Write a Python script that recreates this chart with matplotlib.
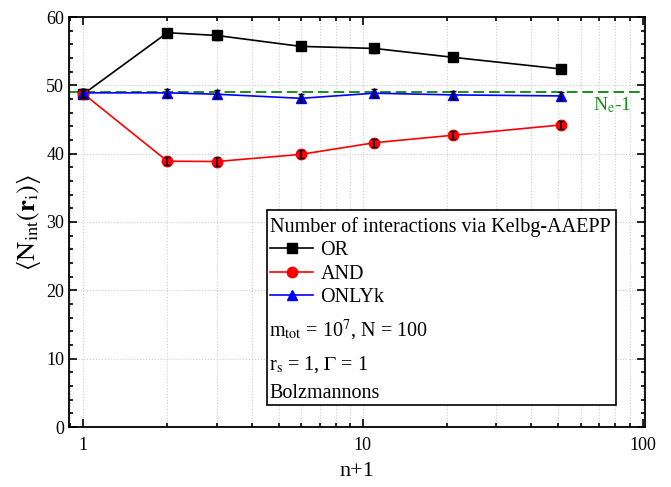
import numpy as np
import matplotlib
matplotlib.use("Agg")
import matplotlib.pyplot as plt
from matplotlib.patches import Rectangle
from matplotlib.ticker import MultipleLocator, LogLocator, NullFormatter

plt.rcParams['font.family'] = ['Liberation Serif', 'DejaVu Serif']
plt.rcParams['mathtext.fontset'] = 'stix'

n1 = [1, 2, 3, 6, 11, 21, 51]
n_or = [48.7, 57.7, 57.3, 55.7, 55.4, 54.1, 52.4]
n_and = [48.8, 38.9, 38.85, 39.9, 41.6, 42.7, 44.2]
n_only = [48.9, 48.9, 48.7, 48.1, 48.85, 48.6, 48.45]
err = [0.6, 0.6, 0.6, 0.6, 0.6, 0.6, 0.6]
ne_minus_1 = 49
green = '#1a8f1a'

fig = plt.figure(figsize=(6.71, 4.87), dpi=100)
ax = fig.add_axes([69 / 671, 60 / 487, 576 / 671, 410 / 487])

ax.grid(True, which='major', color='#cccccc', linestyle=':', linewidth=0.8)
ax.grid(True, which='minor', axis='x', color='#cccccc', linestyle=':', linewidth=0.8)
ax.set_axisbelow(True)

ax.axhline(ne_minus_1, color=green, linestyle=(0, (5.5, 2.5)), linewidth=1.4, zorder=2)

for y, c, m, ms, lab in [(n_or, 'black', 's', 7, 'OR'), (n_and, 'red', 'o', 7.5, 'AND'),
                         (n_only, 'blue', '^', 7.5, 'ONLYk')]:
    ax.errorbar(n1, y, yerr=err, fmt='none', ecolor='black', elinewidth=1.2, capsize=2.5, zorder=5)
    ax.plot(n1, y, color=c, marker=m, markersize=ms, linewidth=1.2, label=lab, zorder=4)

ax.set_xscale('log')
ax.set_xlim(0.89, 102)
ax.set_ylim(0, 60)
ax.set_xticks([1, 10, 100])
ax.set_xticklabels(['1', '10', '100'])
ax.xaxis.set_minor_locator(LogLocator(base=10, subs=np.arange(2, 10)))
ax.xaxis.set_minor_formatter(NullFormatter())
ax.yaxis.set_major_locator(MultipleLocator(10))
ax.yaxis.set_minor_locator(MultipleLocator(2))
ax.tick_params(which='both', direction='in', top=True, right=True, labelsize=13, width=1.2)
ax.tick_params(which='major', length=6)
ax.tick_params(which='minor', length=3)
ax.tick_params(axis='x', which='major', pad=7)
for s in ax.spines.values():
    s.set_linewidth(1.3)

ax.set_xlabel('n+1', fontsize=16, labelpad=6)
ax.set_ylabel(r'$\langle\mathrm{N}_{\mathrm{int}}(\mathbf{r}_{\mathrm{i}})\rangle$', fontsize=19, labelpad=2)

ax.text(78, 47.1, r'N$_{\mathrm{e}}$-1', color=green, fontsize=14, ha='center', va='center')

# legend box
ax.add_patch(Rectangle((0.343, 0.054), 0.607, 0.475, transform=ax.transAxes,
                       facecolor='white', edgecolor='black', linewidth=1.2, zorder=6))
leg = ax.legend(loc='upper left', bbox_to_anchor=(0.342, 0.522), frameon=False, fontsize=14.5,
                title='Number of interactions via Kelbg-AAEPP', title_fontsize=14.5,
                handlelength=2.15, handletextpad=0.35, labelspacing=0.22, borderpad=0.2,
                borderaxespad=0)
leg._legend_box.align = 'left'
leg.set_zorder(7)
ax.text(0.348, 0.2195, r'm$_{\mathrm{tot}}$ = 10$^7$, N = 100', transform=ax.transAxes,
        fontsize=14.5, va='baseline', zorder=8)
ax.text(0.348, 0.140, r'r$_{\mathrm{s}}$ = 1, $\Gamma$ = 1', transform=ax.transAxes,
        fontsize=14.5, va='baseline', zorder=8)
ax.text(0.348, 0.0707, 'Bolzmannons', transform=ax.transAxes, fontsize=14.5, va='baseline', zorder=8)

fig.savefig('out.png', dpi=100)
